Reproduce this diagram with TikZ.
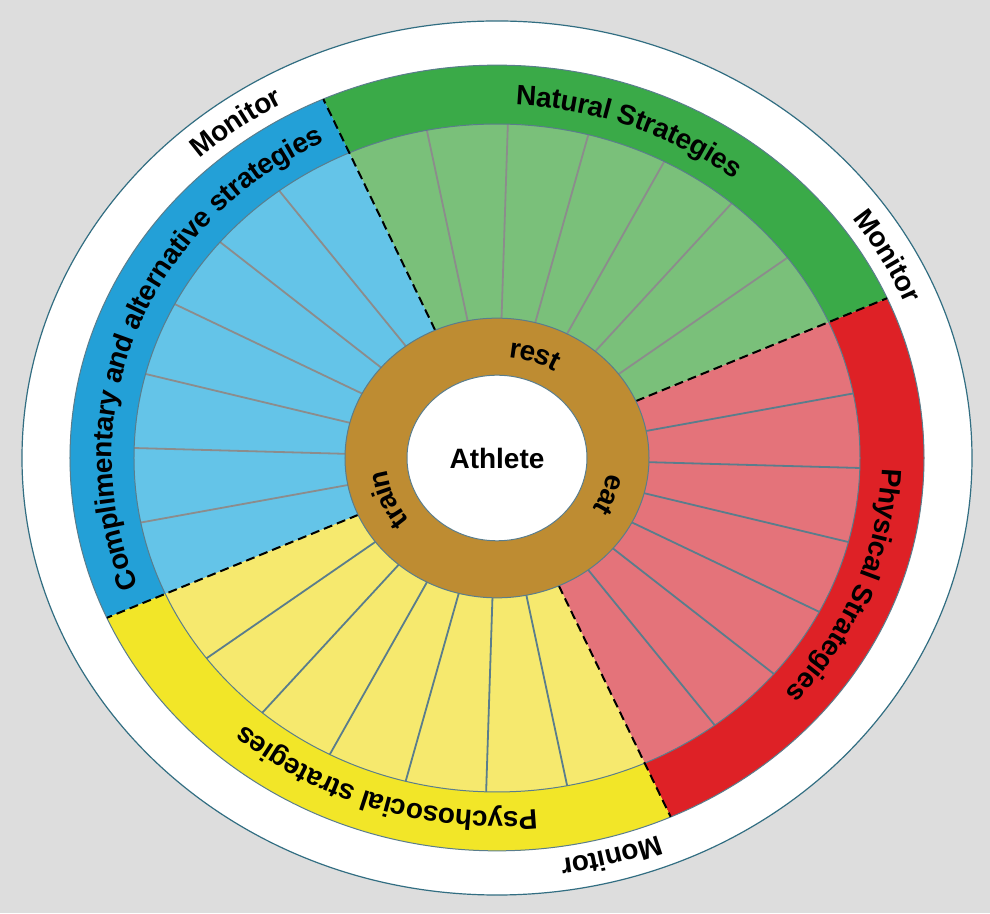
\documentclass[tikz,border=0pt]{standalone}
\usepackage{fontspec}
\setmainfont{Liberation Sans}
\usepackage{tikz}
\usetikzlibrary{decorations.text}

\definecolor{bggray}{RGB}{221,221,221}
\definecolor{rimline}{RGB}{50,110,130}
\definecolor{natgreen}{RGB}{58,170,72}
\definecolor{natlight}{RGB}{122,192,122}
\definecolor{physred}{RGB}{222,33,38}
\definecolor{physlight}{RGB}{228,115,122}
\definecolor{psyyellow}{RGB}{242,230,40}
\definecolor{psylight}{RGB}{246,233,110}
\definecolor{compblue}{RGB}{35,160,215}
\definecolor{complight}{RGB}{100,196,232}
\definecolor{ringbrown}{RGB}{190,140,50}
\definecolor{spokegray}{RGB}{140,140,140}
\definecolor{spokeslate}{RGB}{90,125,140}

\begin{document}
\begin{tikzpicture}[x=0.5pt,y=0.46pt,
  spoke/.style={line width=0.9pt},
  edge/.style={line width=0.5pt,color=spokeslate},
  divider/.style={line width=1pt,dash pattern=on 4.5pt off 2.5pt},
  arclabel/.style={decorate,decoration={text along path,text align=center,
    raise=-5pt,text={#1}}}]

%Define radii (in pixels of the wheel)
\def\rhub{90}      %Athlete circle.
\def\rring{152}    %Outer edge of brown ring.
\def\rin{363}      %Inner edge of strategy band.
\def\rout{427}     %Outer edge of strategy band.
\def\rrim{475}     %Outer edge of white rim.
\def\bandfont{\bfseries\fontsize{14}{16}\selectfont}

% Background and rim
\useasboundingbox (-497,-494.6) rectangle (493,497.8);
\fill[bggray] (-497,-494.6) rectangle (493,497.8);
\draw[line width=0.6pt,color=rimline,fill=white] (0,0) circle[radius=\rrim];

% Quadrants: start angle / band / segments / spokes
\foreach \a/\dark/\light/\sp in {-66/physred/physlight/spokeslate,
    24/natgreen/natlight/spokegray, 114/compblue/complight/spokegray,
    204/psyyellow/psylight/spokeslate}{
  \fill[\light] (0,0) -- (\a:\rin) arc[start angle=\a,delta angle=90,radius=\rin] -- cycle;
  \fill[\dark] (\a:\rin) arc[start angle=\a,delta angle=90,radius=\rin]
    -- (\a+90:\rout) arc[start angle=\a+90,delta angle=-90,radius=\rout] -- cycle;
  \foreach \k in {1,...,6}
    \draw[spoke,\sp] (\a+\k*90/7:\rring) -- (\a+\k*90/7:\rin);
}
\draw[edge] (0,0) circle[radius=\rin];
\draw[edge] (0,0) circle[radius=\rout];

% Dashed borders between quadrants
\foreach \a in {24,114,204,294}
  \draw[divider] (\a:\rring) -- (\a:\rout);

% Brown ring and hub
\draw[edge,fill=ringbrown] (0,0) circle[radius=\rring];
\draw[edge,fill=white] (0,0) circle[radius=\rhub];
\node[font=\bandfont] (athlete) at (0,0) {Athlete};

% Band labels
\path[arclabel={|\bandfont|Natural Strategies}]
  (114:395) arc[start angle=114,end angle=24,radius=395];
\path[arclabel={|\bandfont|Physical Strategies}]
  (24:395) arc[start angle=24,end angle=-66,radius=395];
\path[arclabel={|\bandfont|Psychosocial strategies}]
  (-63:395) arc[start angle=-63,end angle=-153,radius=395];
\path[arclabel={|\bandfont|Complimentary and alternative strategies}]
  (204:395) arc[start angle=204,end angle=114,radius=395];

% Monitor labels on the rim
\foreach \c in {126,29,-75}
  \path[arclabel={|\bandfont|Monitor}]
    (\c+25:451) arc[start angle=\c+25,end angle=\c-25,radius=451];

% Ring labels
\foreach \c/\word in {71/rest,-19/eat,202/train}
  \path[arclabel={|\bandfont|\word}]
    (\c+40:121) arc[start angle=\c+40,end angle=\c-40,radius=121];

\end{tikzpicture}
\end{document}
